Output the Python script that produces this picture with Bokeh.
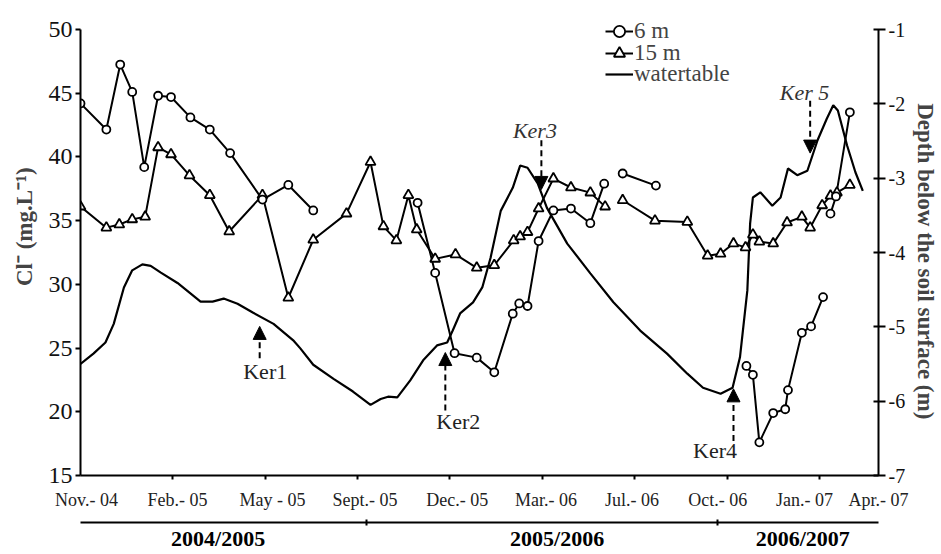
import math
from bokeh.plotting import figure
from bokeh.models import (Range1d, LinearAxis, FixedTicker, Label, Arrow, NormalHead,
                          Legend, LegendItem)
from bokeh.embed import file_html
from bokeh.resources import INLINE

nan = float("nan")
FONT = "Liberation Serif"
NBSP = "\u00a0"

# ---------------- data ----------------
# x positions are in units of the (equally spaced) tick marks, 0 = Nov. 2004
x_end = 8.64
tick_pos = [1, 2, 3, 4, 5, 6, 7, 8]
label_pos = [0.065, 1.05, 2.08, 3.08, 4.08, 5.04, 5.97, 6.90, 7.84, 8.64]
tick_labels = ["Nov.- 04", "Feb.- 05", "May - 05", "Sept.- 05", "Dec.- 05",
               "Mar.- 06", "Jul.- 06", "Oct.- 06", "Jan.- 07", "Apr.- 07"]
cl_ticks = [15, 20, 25, 30, 35, 40, 45, 50]
depth_ticks = [-7, -6, -5, -4, -3, -2, -1]

# Cl- at 6 m (mg/L); nan = gap in the record
cl6_t = [0.00, 0.28, 0.43, 0.56, 0.69, 0.84, 0.98, 1.19, 1.40, 1.62, 1.97, 2.25, 2.52, nan,
         3.65, 3.84, 4.05, 4.29, 4.48, 4.68, 4.75, 4.84, 4.96, 5.12, 5.31, 5.52, 5.67, nan,
         5.87, 6.23, nan,
         7.21, 7.28, 7.35, 7.50, 7.63, 7.66, 7.81, 7.91, 8.04, nan,
         8.12, 8.18, 8.33]
cl6 = [44.2, 42.15, 47.25, 45.1, 39.2, 44.8, 44.7, 43.1, 42.15, 40.3, 36.65, 37.8, 35.8, nan,
       36.4, 30.9, 24.6, 24.25, 23.1, 27.7, 28.5, 28.3, 33.4, 35.8, 35.95, 34.8, 37.9, nan,
       38.7, 37.75, nan,
       23.6, 22.9, 17.6, 19.9, 20.2, 21.7, 26.2, 26.7, 29.0, nan,
       35.55, 36.9, 43.5]

# Cl- at 15 m (mg/L)
cl15_t = [0.00, 0.28, 0.42, 0.56, 0.70, 0.84, 0.98, 1.18, 1.40, 1.61, 1.97, 2.25, 2.52, 2.88,
          3.14, 3.28, 3.42, 3.55, 3.64, 3.84, 4.06, 4.29, 4.48, 4.69, 4.76, 4.84, 4.96, 5.12,
          5.31, 5.52, 5.68, nan,
          5.87, 6.22, 6.57, 6.79, 6.93, 7.07, 7.20, 7.28, 7.35, 7.50, 7.65, 7.81, 7.90, 8.03,
          8.12, 8.19, 8.33]
cl15 = [36.1, 34.45, 34.7, 35.1, 35.3, 40.75, 40.2, 38.55, 37.0, 34.15, 37.0, 28.95, 33.5, 35.55,
        39.6, 34.55, 33.45, 37.0, 34.3, 32.0, 32.35, 31.3, 31.5, 33.45, 33.75, 34.1, 35.95, 38.3,
        37.6, 37.2, 36.1, nan,
        36.6, 35.0, 34.9, 32.25, 32.4, 33.2, 32.9, 33.9, 33.35, 33.2, 34.85, 35.3, 34.45, 36.2,
        36.95, 37.2, 37.8]

# water table depth below soil surface (m)
wt_t = [0.00, 0.14, 0.27, 0.36, 0.47, 0.56, 0.67, 0.76, 0.87, 1.05, 1.23, 1.30, 1.43, 1.55,
        1.70, 1.87, 2.09, 2.31, 2.38, 2.52, 2.74, 2.95, 3.14, 3.25, 3.33, 3.43, 3.57, 3.71,
        3.86, 3.97, 4.03, 4.11, 4.25, 4.35, 4.44, 4.55, 4.68, 4.76, 4.84, 4.95, 5.05, 5.27,
        5.52, 5.77, 6.06, 6.35, 6.57, 6.74, 6.93, 7.06, 7.14, 7.22, 7.25, 7.28, 7.36, 7.49,
        7.58, 7.66, 7.76, 7.87, 7.98, 8.08, 8.15, 8.20, 8.30, 8.39, 8.47]
wt_depth = [-5.50, -5.36, -5.21, -4.96, -4.47, -4.24, -4.16, -4.18, -4.27, -4.41, -4.59, -4.66,
            -4.66, -4.62, -4.69, -4.81, -4.96, -5.19, -5.29, -5.51, -5.70, -5.87, -6.05, -5.97,
            -5.94, -5.95, -5.72, -5.45, -5.25, -5.21, -5.05, -4.82, -4.67, -4.47, -4.07, -3.44,
            -3.13, -2.83, -2.86, -3.07, -3.40, -3.88, -4.28, -4.67, -5.05, -5.36, -5.63, -5.82,
            -5.90, -5.82, -5.41, -4.51, -3.61, -3.26, -3.19, -3.37, -3.26, -2.87, -2.96, -2.90,
            -2.49, -2.20, -2.02, -2.09, -2.56, -2.92, -3.17]

# sampling campaigns (arrows)
ker_names = ["Ker1", "Ker2", "Ker3", "Ker4", "Ker 5"]
ker_italic = [False, False, True, False, True]
ker_x = [1.94, 3.95, 4.99, 7.07, 7.90]
ker_tail = [24.2, 20.1, 41.3, 17.7, 44.4]
ker_tip = [26.7, 24.65, 37.45, 21.8, 40.3]
ker_label_x = [2.00, 4.09, 4.92, 6.87, 7.84]
ker_label_y = [23.2, 19.2, 42.05, 16.95, 45.05]

# hydrological years
season_labels = ["2004/2005", "2005/2006", "2006/2007"]
season_centers = [1.49, 5.16, 7.82]
season_bounds = [3.10, 6.90]

# legend entries
legend_labels = ["6 m", "15 m", "watertable"]

# ---------------- figure ----------------
# frame: x 80..878 px, y 12..475 px (the value 50 sits at y = 29 px)
cl_top = 50 + 17 / 12.74
depth_top = -1 + 17 / 74.3
p = figure(width=941, height=554, x_range=Range1d(0, x_end), y_range=Range1d(15, cl_top),
           output_backend="svg", toolbar_location=None, title=None,
           min_border_left=80, min_border_right=63, min_border_top=12, min_border_bottom=79,
           background_fill_color="white", border_fill_color="white")
p.outline_line_color = None
p.xgrid.visible = False
p.ygrid.visible = False
p.extra_y_ranges = {"depth": Range1d(depth_ticks[0], depth_top)}

# bottom axis (dates)
xa = p.xaxis[0]
xa.ticker = FixedTicker(ticks=label_pos, minor_ticks=tick_pos)
xa.major_label_overrides = {t: l for t, l in zip(label_pos, tick_labels)}
xa.axis_line_width = 2
xa.major_tick_line_color = None
xa.major_tick_in = 0
xa.major_tick_out = 4
xa.minor_tick_line_width = 2
xa.minor_tick_in = 0
xa.minor_tick_out = 4
xa.major_label_standoff = 10
xa.major_label_text_font = FONT
xa.major_label_text_font_size = "18px"
xa.major_label_text_color = "#222222"
xa.axis_label = " "
xa.axis_label_text_font_size = "6px"
xa.axis_label_standoff = 1

# second bottom axis (hydrological years)
sa = LinearAxis(ticker=FixedTicker(ticks=season_centers, minor_ticks=season_bounds))
sa.major_label_overrides = {c: l for c, l in zip(season_centers, season_labels)}
sa.axis_line_width = 2
sa.major_tick_line_color = None
sa.major_tick_in = 0
sa.major_tick_out = 3
sa.minor_tick_line_width = 2
sa.minor_tick_in = 3
sa.minor_tick_out = 3
sa.major_label_standoff = 0
sa.major_label_text_font = FONT
sa.major_label_text_font_style = "bold"
sa.major_label_text_font_size = "22px"
sa.major_label_text_color = "black"
p.add_layout(sa, "below")

# left axis
ya = p.yaxis[0]
ya.ticker = FixedTicker(ticks=cl_ticks)
ya.bounds = (cl_ticks[0], cl_ticks[-1])
ya.axis_line_width = 2
ya.major_tick_line_width = 2
ya.major_tick_in = 0
ya.major_tick_out = 5
ya.minor_tick_line_color = None
ya.major_label_standoff = 3
ya.major_label_text_font = FONT
ya.major_label_text_font_size = "24px"
ya.major_label_text_color = "#111111"
# leading no-break spaces move the centred title along the axis, as in the original
ya.axis_label = NBSP * 6 + "Cl\u207b (mg.L\u207b\u00b9)"
ya.axis_label_text_font = FONT
ya.axis_label_text_font_style = "bold"
ya.axis_label_text_font_size = "23px"
ya.axis_label_standoff = 9

# right axis
ra = LinearAxis(y_range_name="depth", ticker=FixedTicker(ticks=depth_ticks))
ra.bounds = (depth_ticks[0], depth_ticks[-1])
ra.major_label_overrides = {d: "-%d" % abs(d) for d in depth_ticks}
ra.axis_line_width = 2
ra.major_tick_line_width = 2
ra.major_tick_in = 5
ra.major_tick_out = 7
ra.minor_tick_line_color = None
ra.major_label_standoff = 3
ra.major_label_text_font = FONT
ra.major_label_text_font_size = "20px"
ra.major_label_text_color = "#111111"
ra.axis_label = NBSP * 6 + "Depth below the soil surface (m)"
ra.axis_label_text_font = FONT
ra.axis_label_text_font_style = "bold"
ra.axis_label_text_font_size = "23px"
ra.axis_label_standoff = 5
p.add_layout(ra, "right")

# series
wt_line = p.line(wt_t, wt_depth, y_range_name="depth", line_color="black", line_width=2.2)
l6 = p.line(cl6_t, cl6, line_color="black", line_width=2)
l15 = p.line(cl15_t, cl15, line_color="black", line_width=2)
s15 = p.scatter(cl15_t, cl15, marker="triangle", size=10, fill_color="white",
                line_color="black", line_width=1.8)
s6 = p.scatter(cl6_t, cl6, marker="circle", size=8, fill_color="white",
               line_color="black", line_width=1.8)

# legend: one single-row legend per entry, so the rows can sit close together
legend_rows = [[l6, s6], [l15, s15], [wt_line]]
legend_bottoms = [429, 407.5, 386]
for lab, rends, vy in zip(legend_labels, legend_rows, legend_bottoms):
    lg = Legend(items=[LegendItem(label=lab, renderers=rends)],
                location=(525, vy), orientation="vertical",
                glyph_width=28, glyph_height=30, label_height=30, label_standoff=1,
                spacing=0, padding=0, margin=0,
                label_text_font=FONT, label_text_font_size="23px",
                border_line_color=None, background_fill_alpha=0)
    p.add_layout(lg, "center")

# campaign arrows and labels
for name, it, x, t0, t1, lx, ly in zip(ker_names, ker_italic, ker_x, ker_tail, ker_tip,
                                       ker_label_x, ker_label_y):
    p.add_layout(Arrow(x_start=x, y_start=t0, x_end=x, y_end=t1,
                       line_color="black", line_width=2, line_dash="6 4",
                       end=NormalHead(size=13, fill_color="black", line_color="black",
                                      line_width=1)))
    p.add_layout(Label(x=lx, y=ly, text=name, text_align="center", text_baseline="middle",
                       text_font=FONT, text_font_size="22px",
                       text_font_style="italic" if it else "normal",
                       text_color="#333333" if it else "#222222"))

open("out.html", "w").write(file_html(p, INLINE))
